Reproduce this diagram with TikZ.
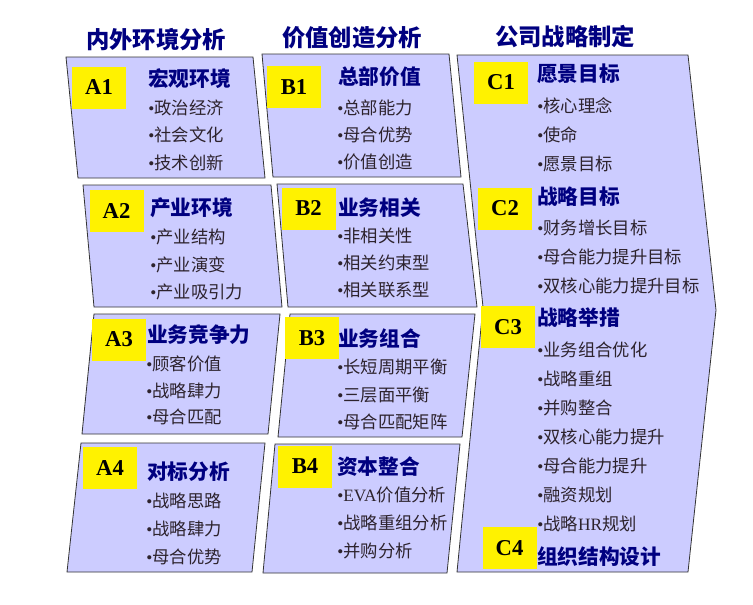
\documentclass[tikz,border=0pt]{standalone}
\usepackage{fontspec}
\usepackage{xcolor}
\usepackage{tikz}
\usetikzlibrary{positioning}
\setmainfont{Noto Sans CJK SC}
\newfontfamily\tagfont{Liberation Serif}
\newcommand{\bul}{{\tagfont •}}
\definecolor{lav}{RGB}{204,204,255}
\definecolor{navy}{RGB}{0,0,128}
\definecolor{itemgray}{RGB}{45,35,45}
\tikzstyle{panel} = [draw=black!80, fill=lav, line width=0.6pt]
\tikzstyle{tag} = [rectangle, fill=yellow, minimum width=40.5pt, minimum height=31.5pt, inner sep=0pt, font=\tagfont\bfseries\fontsize{17}{17}\selectfont]
\tikzstyle{head} = [inner sep=0pt, text=navy, font=\bfseries\fontsize{17.5}{18}\selectfont]
\tikzstyle{title} = [anchor=west, inner sep=0pt, text=navy, font=\bfseries\fontsize{15.5}{16}\selectfont]
\tikzstyle{itm} = [anchor=west, inner sep=0pt, text=itemgray, font=\fontsize{13}{14}\selectfont]

\begin{document}
\begin{tikzpicture}[x=0.75pt, y=-0.75pt]
\useasboundingbox (0,0) rectangle (753,604);

% Panels
\draw [panel] (66,57) -- (253,57) -- (265,178) -- (78,178) -- cycle;
\draw [panel] (83,185) -- (271,185) -- (282,307) -- (94,307) -- cycle;
\draw [panel] (94,314) -- (280,314) -- (268,434) -- (82,434) -- cycle;
\draw [panel] (81,443) -- (265,443) -- (252,572) -- (67,572) -- cycle;
\draw [panel] (262,54) -- (449,54) -- (461,177) -- (273,177) -- cycle;
\draw [panel] (277,184) -- (463,184) -- (477,307) -- (288,307) -- cycle;
\draw [panel] (290,314) -- (475,314) -- (462,437) -- (278,437) -- cycle;
\draw [panel] (275,444) -- (460,444) -- (447,573) -- (263,573) -- cycle;
\draw [panel] (457,55) -- (688,55) -- (716,310) -- (688,572) -- (457,572) -- (483,307) -- cycle;

% Headings
\node (hA) [head] at (156,40) {内外环境分析};
\node (hB) [head] at (352,38) {价值创造分析};
\node (hC) [head] at (565,37) {公司战略制定};

% Tags
\node (a1) [tag] at (99,87.5) {A1};
\node (a2) [tag] at (116.5,211) {A2};
\node (a3) [tag] at (119,339.5) {A3};
\node (a4) [tag] at (110,468) {A4};
\node (b1) [tag] at (294,87) {B1};
\node (b2) [tag] at (308.5,208.5) {B2};
\node (b3) [tag] at (312,338) {B3};
\node (b4) [tag] at (305,466.5) {B4};
\node (c1) [tag] at (501,82.5) {C1};
\node (c2) [tag] at (505,208.5) {C2};
\node (c3) [tag] at (508,327) {C3};
\node (c4) [tag] at (509.5,548) {C4};

% A column
\node (ta1) [title] at (148,79) {宏观环境};
\node (a1x) [itm] at (148,108) {\bul 政治经济};
\node (a1y) [itm] at (148,135) {\bul 社会文化};
\node (a1z) [itm] at (148,163) {\bul 技术创新};
\node (ta2) [title] at (150,208) {产业环境};
\node (a2x) [itm] at (150,237) {\bul 产业结构};
\node (a2y) [itm] at (150,265) {\bul 产业演变};
\node (a2z) [itm] at (150,292) {\bul 产业吸引力};
\node (ta3) [title] at (147,335) {业务竞争力};
\node (a3x) [itm] at (146,364) {\bul 顾客价值};
\node (a3y) [itm] at (146,391) {\bul 战略肆力};
\node (a3z) [itm] at (146,417) {\bul 母合匹配};
\node (ta4) [title] at (147,472) {对标分析};
\node (a4x) [itm] at (146,501) {\bul 战略思路};
\node (a4y) [itm] at (146,529) {\bul 战略肆力};
\node (a4z) [itm] at (146,557) {\bul 母合优势};

% B column
\node (tb1) [title] at (338,77) {总部价值};
\node (b1x) [itm] at (337,108) {\bul 总部能力};
\node (b1y) [itm] at (337,135) {\bul 母合优势};
\node (b1z) [itm] at (337,162) {\bul 价值创造};
\node (tb2) [title] at (338,208) {业务相关};
\node (b2x) [itm] at (337,236) {\bul 非相关性};
\node (b2y) [itm] at (337,263) {\bul 相关约束型};
\node (b2z) [itm] at (337,290) {\bul 相关联系型};
\node (tb3) [title] at (338,339) {业务组合};
\node (b3x) [itm] at (337,367) {\bul 长短周期平衡};
\node (b3y) [itm] at (337,395) {\bul 三层面平衡};
\node (b3z) [itm] at (337,422) {\bul 母合匹配矩阵};
\node (tb4) [title] at (337,467) {资本整合};
\node (b4x) [itm] at (337,495) {\bul {\tagfont EVA}价值分析};
\node (b4y) [itm] at (337,523) {\bul 战略重组分析};
\node (b4z) [itm] at (337,551) {\bul 并购分析};

% C column
\node (tc1) [title] at (537,74) {愿景目标};
\node (c1x) [itm] at (537,106) {\bul 核心理念};
\node (c1y) [itm] at (537,135) {\bul 使命};
\node (c1z) [itm] at (537,164) {\bul 愿景目标};
\node (tc2) [title] at (537,197) {战略目标};
\node (c2x) [itm] at (537,228) {\bul 财务增长目标};
\node (c2y) [itm] at (537,257) {\bul 母合能力提升目标};
\node (c2z) [itm] at (537,286) {\bul 双核心能力提升目标};
\node (tc3) [title] at (537,318) {战略举措};
\node (c3a) [itm] at (537,350) {\bul 业务组合优化};
\node (c3b) [itm] at (537,379) {\bul 战略重组};
\node (c3c) [itm] at (537,408) {\bul 并购整合};
\node (c3d) [itm] at (537,437) {\bul 双核心能力提升};
\node (c3e) [itm] at (537,466) {\bul 母合能力提升};
\node (c3f) [itm] at (537,495) {\bul 融资规划};
\node (c3g) [itm] at (537,524) {\bul 战略{\tagfont HR}规划};
\node (tc4) [title] at (537,557) {组织结构设计};

\end{tikzpicture}
\end{document}
